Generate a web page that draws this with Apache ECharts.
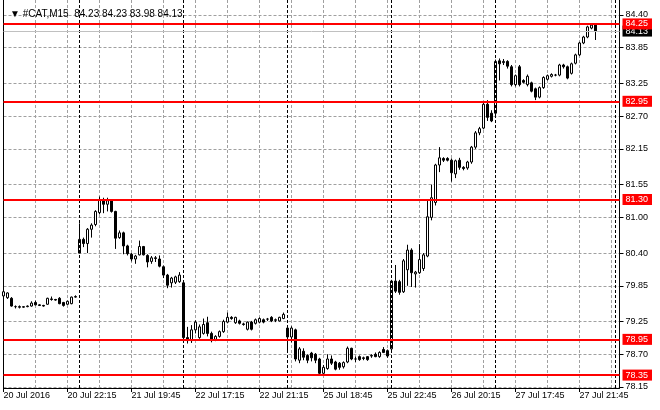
<!DOCTYPE html>
<html><head><meta charset="utf-8">
<script src="https://cdn.jsdelivr.net/npm/echarts@6/dist/echarts.min.js"></script>
<style>html,body{margin:0;padding:0;background:#fff}#c{width:660px;height:410px}</style>
</head><body><div id="c"></div>
<script>
const symbolName = '#CAT,M15';
const xTickLabels = ['20 Jul 2016','20 Jul 22:15','21 Jul 19:45','22 Jul 17:15','22 Jul 21:15','25 Jul 18:45','25 Jul 22:45','26 Jul 20:15','27 Jul 17:45','27 Jul 21:45'];
const yTickValues = [78.15,78.70,79.25,79.85,80.40,81.00,81.55,82.15,82.70,83.25,83.85,84.40];
const levels = [84.25, 82.95, 81.30, 78.95, 78.35];
const daySeparators = [19, 45, 71, 97, 123, 153];
const barSlots = 155;

const opens = [
79.68,79.65,79.64,79.50,79.50,79.49,79.50,79.51,79.57,79.53,
79.52,79.54,79.63,79.62,79.64,79.57,79.54,79.55,79.66,80.40,
80.63,80.56,80.80,80.88,81.08,81.30,81.22,81.28,81.10,80.66,
80.74,80.52,80.38,80.30,80.37,80.51,80.36,80.26,80.32,80.30,
80.17,80.03,79.90,79.91,79.92,79.90,78.98,78.93,79.11,78.98,
79.05,79.23,79.05,78.95,79.00,79.08,79.24,79.32,79.23,79.26,
79.21,79.12,79.24,79.22,79.24,79.28,79.29,79.32,79.27,79.26,
79.30,79.14,78.99,79.11,78.60,78.75,78.68,78.72,78.70,78.62,
78.38,78.46,78.62,78.57,78.55,78.49,78.57,78.80,78.62,78.66,
78.64,78.66,78.67,78.70,78.66,78.78,78.76,78.79,79.93,79.92,
79.75,80.12,80.45,80.05,80.07,80.14,80.35,81.00,81.25,81.88,
81.99,81.99,81.96,81.73,81.96,81.84,81.83,81.93,82.18,82.42,
82.50,82.90,82.75,82.75,83.63,83.60,83.62,83.53,83.23,83.53,
83.30,83.23,83.26,83.16,83.02,83.18,83.32,83.37,83.39,83.39,
83.56,83.53,83.42,83.59,83.73,83.93,84.03,84.18,84.23];
const highs = [
79.76,79.74,79.66,79.52,79.52,79.51,79.52,79.59,79.60,79.54,
79.53,79.65,79.67,79.63,79.66,79.58,79.60,79.67,79.69,80.90,
80.66,80.82,80.90,81.12,81.35,81.33,81.33,81.30,81.11,80.78,
80.76,80.54,80.40,80.37,80.61,80.52,80.38,80.35,80.35,80.36,
80.19,80.05,80.00,80.02,80.08,79.92,79.16,79.19,79.27,79.20,
79.30,79.33,79.08,79.02,79.10,79.28,79.40,79.34,79.33,79.28,
79.23,79.25,79.26,79.30,79.32,79.30,79.31,79.34,79.30,79.33,
79.40,79.16,79.17,79.13,78.82,78.80,78.70,78.74,78.72,78.64,
78.52,78.70,78.68,78.59,78.57,78.58,78.83,78.81,78.66,78.68,
78.66,78.67,78.70,78.73,78.75,78.82,78.78,79.95,80.20,79.95,
80.30,80.54,80.48,80.10,80.55,80.40,81.30,81.55,81.90,82.18,
82.01,82.01,81.99,81.97,82.00,81.86,81.95,82.20,82.45,82.52,
82.95,82.97,82.80,83.65,83.67,83.66,83.64,83.56,83.40,83.56,
83.32,83.40,83.28,83.18,83.20,83.37,83.40,83.42,83.41,83.58,
83.58,83.55,83.60,83.75,83.95,84.05,84.22,84.26,84.23];
const lows = [
79.61,79.63,79.50,79.47,79.47,79.48,79.49,79.50,79.52,79.51,
79.50,79.53,79.60,79.60,79.54,79.50,79.53,79.54,79.65,80.40,
80.50,80.40,80.66,80.85,81.05,81.07,81.10,81.08,80.47,80.64,
80.38,80.36,80.26,80.22,80.36,80.36,80.16,80.22,80.25,80.16,
79.98,79.81,79.82,79.88,79.90,78.95,78.88,78.89,79.05,78.96,
79.03,79.00,78.90,78.92,78.98,79.06,79.22,79.28,79.21,79.20,
79.18,79.10,79.10,79.20,79.22,79.22,79.26,79.24,79.24,79.25,
79.29,78.77,78.90,78.58,78.55,78.60,78.55,78.58,78.55,78.36,
78.36,78.44,78.52,78.43,78.44,78.46,78.55,78.60,78.57,78.59,
78.60,78.59,78.64,78.65,78.64,78.72,78.64,78.75,79.73,79.70,
79.73,79.85,79.83,79.82,80.05,80.10,80.33,80.95,81.20,81.76,
81.93,81.94,81.60,81.66,81.80,81.79,81.80,81.90,82.15,82.38,
82.48,82.62,82.60,82.72,83.30,83.56,83.50,83.20,83.20,83.20,
83.25,83.20,83.10,82.97,83.00,83.16,83.30,83.35,83.37,83.37,
83.50,83.32,83.40,83.57,83.71,83.91,84.01,84.16,83.98];
const closes = [
79.75,79.73,79.51,79.50,79.49,79.50,79.51,79.56,79.53,79.52,
79.51,79.64,79.62,79.61,79.55,79.52,79.59,79.66,79.67,80.63,
80.56,80.80,80.87,81.10,81.30,81.22,81.28,81.10,80.65,80.74,
80.52,80.39,80.30,80.35,80.51,80.37,80.25,80.32,80.31,80.18,
80.03,79.86,79.98,80.00,80.03,78.98,78.93,79.11,79.24,79.16,
79.20,79.05,78.93,79.00,79.08,79.25,79.32,79.30,79.32,79.22,
79.20,79.24,79.12,79.28,79.30,79.24,79.29,79.26,79.28,79.32,
79.37,78.99,79.14,78.62,78.79,78.65,78.60,78.64,78.60,78.38,
78.48,78.62,78.55,78.45,78.48,78.56,78.80,78.62,78.62,78.61,
78.63,78.61,78.68,78.66,78.73,78.73,78.67,79.93,79.76,79.74,
80.27,80.45,80.07,80.08,80.29,80.37,81.01,81.33,81.88,82.00,
81.96,81.96,81.75,81.95,81.84,81.82,81.93,82.18,82.42,82.49,
82.90,82.68,82.62,83.62,83.58,83.62,83.54,83.23,83.38,83.23,
83.27,83.37,83.12,83.02,83.18,83.35,83.38,83.40,83.39,83.56,
83.53,83.34,83.58,83.73,83.93,84.03,84.20,84.23,84.13];

const FONT = 'Liberation Sans, Arial, sans-serif';
const GRID = '#a0a0a0';
const categories = Array.from({length: barSlots}, (_, i) => String(i));
const candleData = opens.map((o, i) => [o, closes[i], lows[i], highs[i]]);
const last = opens.length - 1;
const lastClose = closes[last];
const titleText = '\u25BC ' + symbolName + '  ' + [opens[last], highs[last], lows[last], closes[last]].map(v => v.toFixed(2)).join(' ');

const boxLabel = (bg) => ({
  show: true, position: 'end', distance: 3,
  formatter: p => Number(p.value).toFixed(2),
  backgroundColor: bg, color: '#fff', fontSize: 9, fontFamily: FONT,
  padding: [1, 4, 0, 3], lineHeight: 10
});

const chart = echarts.init(document.getElementById('c'), null, {renderer: 'canvas'});
chart.setOption({
  animation: false,
  backgroundColor: '#fff',
  title: {text: titleText, left: 5, top: 4, textStyle: {fontSize: 10, fontWeight: 'normal', color: '#000', fontFamily: FONT}},
  grid: {left: 3.5, right: 40.5, top: 0, bottom: 22, containLabel: false},
  xAxis: {
    type: 'category', data: categories, boundaryGap: false,
    axisLine: {show: true, lineStyle: {color: '#000', width: 1}},
    axisTick: {show: true, interval: (i) => i % 16 === 0, length: 4, inside: false, lineStyle: {color: '#000'}},
    axisLabel: {interval: (i) => i % 16 === 0, formatter: (v, i) => (xTickLabels[i / 16] || ''), align: 'left', margin: 3,
      color: '#000', fontSize: 9, fontFamily: FONT, hideOverlap: false},
    splitLine: {show: true, interval: (i) => i % 8 === 0, lineStyle: {color: GRID, width: 1, type: [3, 2]}}
  },
  yAxis: [{
    type: 'value', position: 'right', min: 78.133, max: 84.652, scale: true,
    axisLine: {show: true, lineStyle: {color: '#000', width: 1}},
    axisTick: {show: true, customValues: yTickValues, length: 4, lineStyle: {color: '#000'}},
    axisLabel: {show: true, customValues: yTickValues, formatter: v => Number(v).toFixed(2), margin: 6,
      color: '#000', fontSize: 9, fontFamily: FONT},
    splitLine: {show: true, lineStyle: {color: GRID, width: 1, type: [3, 2]}}
  }, {
    type: 'value', position: 'left', min: 78.133, max: 84.652, scale: true,
    axisLine: {show: true, onZero: false, lineStyle: {color: '#000', width: 1}},
    axisTick: {show: false}, axisLabel: {show: false}, splitLine: {show: false}
  }],
  series: [{
    type: 'candlestick', data: candleData, barWidth: 3, z: 3,
    itemStyle: {color: '#ffffff', color0: '#000000', borderColor: '#000000', borderColor0: '#000000', borderWidth: 1},
    markLine: {symbol: 'none', silent: true, animation: false, data: []
      .concat(daySeparators.map(x => ({xAxis: String(x), lineStyle: {color: '#000', width: 1, type: [3, 2]}, label: {show: false}})))
      .concat([{yAxis: lastClose, lineStyle: {color: '#c0c0c0', width: 1, type: 'solid'}, label: boxLabel('#000000')}])
      .concat(levels.map(v => ({yAxis: v, lineStyle: {color: '#ff0000', width: 2, type: 'solid'}, label: boxLabel('#ff0000')})))}
  }]
});
</script></body></html>
